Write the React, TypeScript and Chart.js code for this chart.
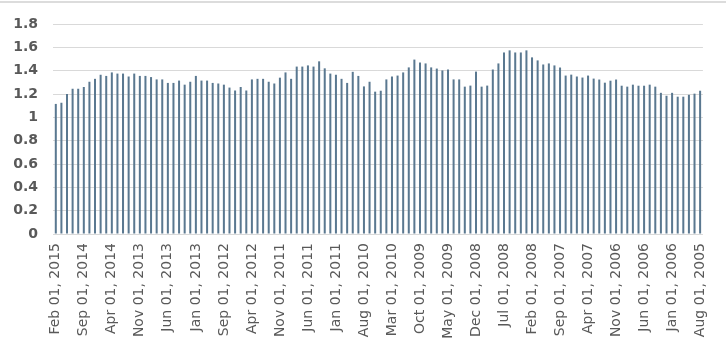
import React, { useEffect, useRef } from "react";
import { Chart, registerables } from "chart.js";

Chart.register(...registerables);

const CATEGORIES: string[] = [
  "Feb 01, 2015", "Jan 01, 2015",
  "Dec 01, 2014", "Nov 01, 2014", "Oct 01, 2014", "Sep 01, 2014", "Aug 01, 2014", "Jul 01, 2014",
  "Jun 01, 2014", "May 01, 2014", "Apr 01, 2014", "Mar 01, 2014", "Feb 01, 2014", "Jan 01, 2014",
  "Dec 01, 2013", "Nov 01, 2013", "Oct 01, 2013", "Sep 01, 2013", "Aug 01, 2013", "Jul 01, 2013",
  "Jun 01, 2013", "May 01, 2013", "Apr 01, 2013", "Mar 01, 2013", "Feb 01, 2013", "Jan 01, 2013",
  "Dec 01, 2012", "Nov 01, 2012", "Oct 01, 2012", "Oct 01, 2012", "Sep 01, 2012", "Aug 01, 2012",
  "Jul 01, 2012", "Jun 01, 2012", "May 01, 2012", "Apr 01, 2012", "Mar 01, 2012", "Feb 01, 2012",
  "Jan 01, 2012",
  "Dec 01, 2011", "Nov 01, 2011", "Oct 01, 2011", "Sep 01, 2011", "Aug 01, 2011", "Jul 01, 2011",
  "Jun 01, 2011", "May 01, 2011", "Apr 01, 2011", "Mar 01, 2011", "Feb 01, 2011", "Jan 01, 2011",
  "Dec 01, 2010", "Nov 01, 2010", "Oct 01, 2010", "Sep 01, 2010", "Aug 01, 2010", "Jul 01, 2010",
  "Jun 01, 2010", "May 01, 2010", "Apr 01, 2010", "Mar 01, 2010", "Feb 01, 2010", "Jan 01, 2010",
  "Dec 01, 2009", "Nov 01, 2009", "Oct 01, 2009", "Sep 01, 2009", "Aug 01, 2009", "Jul 01, 2009",
  "Jun 01, 2009", "May 01, 2009", "Apr 01, 2009", "Mar 01, 2009", "Feb 01, 2009", "Jan 01, 2009",
  "Dec 01, 2008", "Nov 01, 2008", "Oct 01, 2008", "Sep 01, 2008", "Aug 01, 2008", "Jul 01, 2008",
  "Jun 01, 2008", "May 01, 2008", "Apr 01, 2008", "Mar 01, 2008", "Feb 01, 2008", "Jan 01, 2008",
  "Dec 01, 2007", "Nov 01, 2007", "Oct 01, 2007", "Sep 01, 2007", "Aug 01, 2007", "Jul 01, 2007",
  "Jun 01, 2007", "May 01, 2007", "Apr 01, 2007", "Mar 01, 2007", "Feb 01, 2007", "Jan 01, 2007",
  "Dec 01, 2006", "Nov 01, 2006", "Oct 01, 2006", "Sep 01, 2006", "Aug 01, 2006", "Jul 01, 2006",
  "Jun 01, 2006", "May 01, 2006", "Apr 01, 2006", "Mar 01, 2006", "Feb 01, 2006", "Jan 01, 2006",
  "Dec 01, 2005", "Nov 01, 2005", "Oct 01, 2005", "Sep 01, 2005", "Aug 01, 2005",
];

const VALUES: number[] = [
  1.115, 1.125, 1.2, 1.245, 1.245, 1.26, 1.305, 1.33, 1.365, 1.355,
  1.385, 1.375, 1.375, 1.35, 1.375, 1.355, 1.355, 1.345, 1.325, 1.325,
  1.295, 1.295, 1.315, 1.28, 1.305, 1.355, 1.315, 1.315, 1.295, 1.29,
  1.28, 1.255, 1.23, 1.26, 1.23, 1.325, 1.33, 1.33, 1.305, 1.29,
  1.34, 1.385, 1.33, 1.435, 1.435, 1.445, 1.435, 1.48, 1.42, 1.375,
  1.365, 1.33, 1.295, 1.39, 1.355, 1.265, 1.305, 1.22, 1.228, 1.325,
  1.35, 1.358, 1.385, 1.428, 1.495, 1.47, 1.462, 1.428, 1.418, 1.402,
  1.41, 1.325, 1.325, 1.263, 1.272, 1.392, 1.263, 1.272, 1.41, 1.462,
  1.556, 1.574, 1.556, 1.556, 1.574, 1.514, 1.488, 1.453, 1.462, 1.445,
  1.427, 1.358, 1.366, 1.35, 1.341, 1.358, 1.332, 1.324, 1.297, 1.314,
  1.324, 1.271, 1.263, 1.28, 1.271, 1.271, 1.28, 1.263, 1.21, 1.185,
  1.21, 1.177, 1.177, 1.193, 1.203, 1.228,
];

const LABEL_EVERY = 5;
const Y_MAX = 1.8;
const Y_STEP = 0.2;

const BAR_COLOR = "#5A7890";
const GRID_COLOR = "#D9D9D9";
const TEXT_COLOR = "#595959";

export default function App() {
  const canvasRef = useRef<HTMLCanvasElement | null>(null);

  useEffect(() => {
    document.body.style.margin = "0";
    const canvas = canvasRef.current;
    if (!canvas) return;
    const chart = new Chart(canvas, {
      type: "bar",
      data: {
        labels: CATEGORIES,
        datasets: [
          {
            data: VALUES,
            backgroundColor: BAR_COLOR,
            borderWidth: 0,
            barPercentage: 0.36,
            categoryPercentage: 1,
          },
        ],
      },
      options: {
        animation: false,
        responsive: false,
        maintainAspectRatio: false,
        layout: { padding: { top: 24, right: 20, bottom: 0, left: 0 } },
        plugins: { legend: { display: false }, tooltip: { enabled: false } },
        scales: {
          x: {
            grid: { display: false, drawTicks: false },
            border: { display: false },
            afterFit: (scale: any) => {
              scale.height = 124;
            },
            ticks: {
              autoSkip: false,
              maxRotation: 90,
              minRotation: 90,
              padding: 9,
              color: TEXT_COLOR,
              font: { family: "'DejaVu Sans'", size: 14 },
              callback: (_v: any, i: number) =>
                i % LABEL_EVERY === 0 ? CATEGORIES[i] : "",
            },
          },
          y: {
            min: 0,
            max: Y_MAX,
            grid: { color: GRID_COLOR, drawTicks: false, lineWidth: 1 },
            border: { display: false },
            afterFit: (scale: any) => {
              scale.width = 53;
            },
            ticks: {
              stepSize: Y_STEP,
              padding: 15,
              color: TEXT_COLOR,
              font: { family: "'DejaVu Sans'", size: 14, weight: "bold" },
              callback: (v: any) => String(Number(Number(v).toFixed(1))),
            },
          },
        },
      },
    });
    return () => chart.destroy();
  }, []);

  return (
    <div style={{ position: "fixed", left: 0, top: 0, width: 726, height: 358, background: "#fff" }}>
      <div style={{ position: "absolute", left: 0, top: 1, width: 726, height: 2, background: "#DCDCDC" }} />
      <canvas ref={canvasRef} width={726} height={358} style={{ position: "absolute", left: 0, top: 0 }} />
    </div>
  );
}
